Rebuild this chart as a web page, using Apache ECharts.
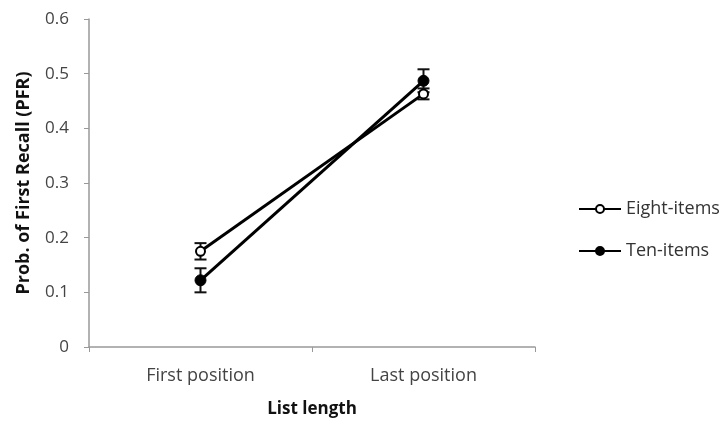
<!DOCTYPE html>
<html>
<head>
<meta charset="utf-8">
<script src="https://cdn.jsdelivr.net/npm/echarts@6/dist/echarts.min.js"></script>
<style>html,body{margin:0;padding:0;background:#fff}#c{width:722px;height:423px}</style>
</head>
<body>
<div id="c"></div>
<script>
const categories = ['First position', 'Last position'];
const yTicks = [0, 0.1, 0.2, 0.3, 0.4, 0.5, 0.6];
const eightItems = [0.175, 0.463];
const tenItems = [0.122, 0.487];
const eightErr = [0.015, 0.01];
const tenErr = [0.022, 0.021];

const FONT = '"Open Sans", "Liberation Sans", sans-serif';

function errData(vals, errs) {
  return vals.map((v, i) => [i, v - errs[i], v + errs[i]]);
}
function errRender(params, api) {
  const x = api.value(0);
  const lo = api.coord([x, api.value(1)]);
  const hi = api.coord([x, api.value(2)]);
  const w = 6;
  const style = { stroke: '#111', lineWidth: 2 };
  return {
    type: 'group',
    children: [
      { type: 'line', shape: { x1: lo[0], y1: lo[1], x2: hi[0], y2: hi[1] }, style },
      { type: 'line', shape: { x1: lo[0] - w, y1: lo[1], x2: lo[0] + w, y2: lo[1] }, style },
      { type: 'line', shape: { x1: hi[0] - w, y1: hi[1], x2: hi[0] + w, y2: hi[1] }, style }
    ]
  };
}

const chart = echarts.init(document.getElementById('c'), null, { renderer: 'canvas' });
chart.setOption({
  animation: false,
  backgroundColor: '#fff',
  textStyle: { fontFamily: FONT },
  grid: { left: 89, right: 187, top: 19, bottom: 73 },
  legend: {
    orient: 'vertical',
    left: 573,
    top: 195,
    itemWidth: 42,
    itemHeight: 10,
    itemGap: 24,
    textStyle: { fontFamily: FONT, fontSize: 18, color: '#333' },
    data: ['Eight-items', 'Ten-items']
  },
  xAxis: {
    type: 'category',
    data: categories,
    boundaryGap: true,
    name: 'List length',
    nameLocation: 'middle',
    nameGap: 54,
    nameTextStyle: { fontFamily: FONT, fontSize: 17, fontWeight: 'bold', color: '#111' },
    axisLine: { lineStyle: { color: '#999', width: 1.5 } },
    axisTick: { show: true, length: 5, lineStyle: { color: '#999' } },
    axisLabel: { margin: 20, fontFamily: FONT, fontSize: 18, color: '#444' }
  },
  yAxis: {
    type: 'value',
    min: 0,
    max: 0.6,
    interval: 0.1,
    name: 'Prob. of First Recall (PFR)',
    nameLocation: 'middle',
    nameGap: 56,
    nameTextStyle: { fontFamily: FONT, fontSize: 18, fontWeight: 'bold', color: '#111' },
    axisLine: { show: true, lineStyle: { color: '#999', width: 1.5 } },
    axisTick: { show: true, length: 5, lineStyle: { color: '#999' } },
    splitLine: { show: false },
    axisLabel: {
      margin: 20,
      fontFamily: FONT,
      fontSize: 17,
      color: '#444',
      formatter: v => {
        const t = yTicks.find(k => Math.abs(k - v) < 1e-9);
        return String(t !== undefined ? t : v);
      }
    }
  },
  series: [
    {
      type: 'custom',
      name: 'errEight',
      renderItem: errRender,
      data: errData(eightItems, eightErr),
      z: 1,
      silent: true
    },
    {
      type: 'custom',
      name: 'errTen',
      renderItem: errRender,
      data: errData(tenItems, tenErr),
      z: 1,
      silent: true
    },
    {
      type: 'line',
      name: 'Eight-items',
      data: eightItems,
      symbol: 'circle',
      symbolSize: 9,
      lineStyle: { color: '#000', width: 3 },
      itemStyle: { color: '#fff', borderColor: '#000', borderWidth: 2 },
      z: 3
    },
    {
      type: 'line',
      name: 'Ten-items',
      data: tenItems,
      symbol: 'circle',
      symbolSize: 11,
      lineStyle: { color: '#000', width: 3 },
      itemStyle: { color: '#000', borderColor: '#000', borderWidth: 1 },
      z: 3
    }
  ]
});
</script>
</body>
</html>
